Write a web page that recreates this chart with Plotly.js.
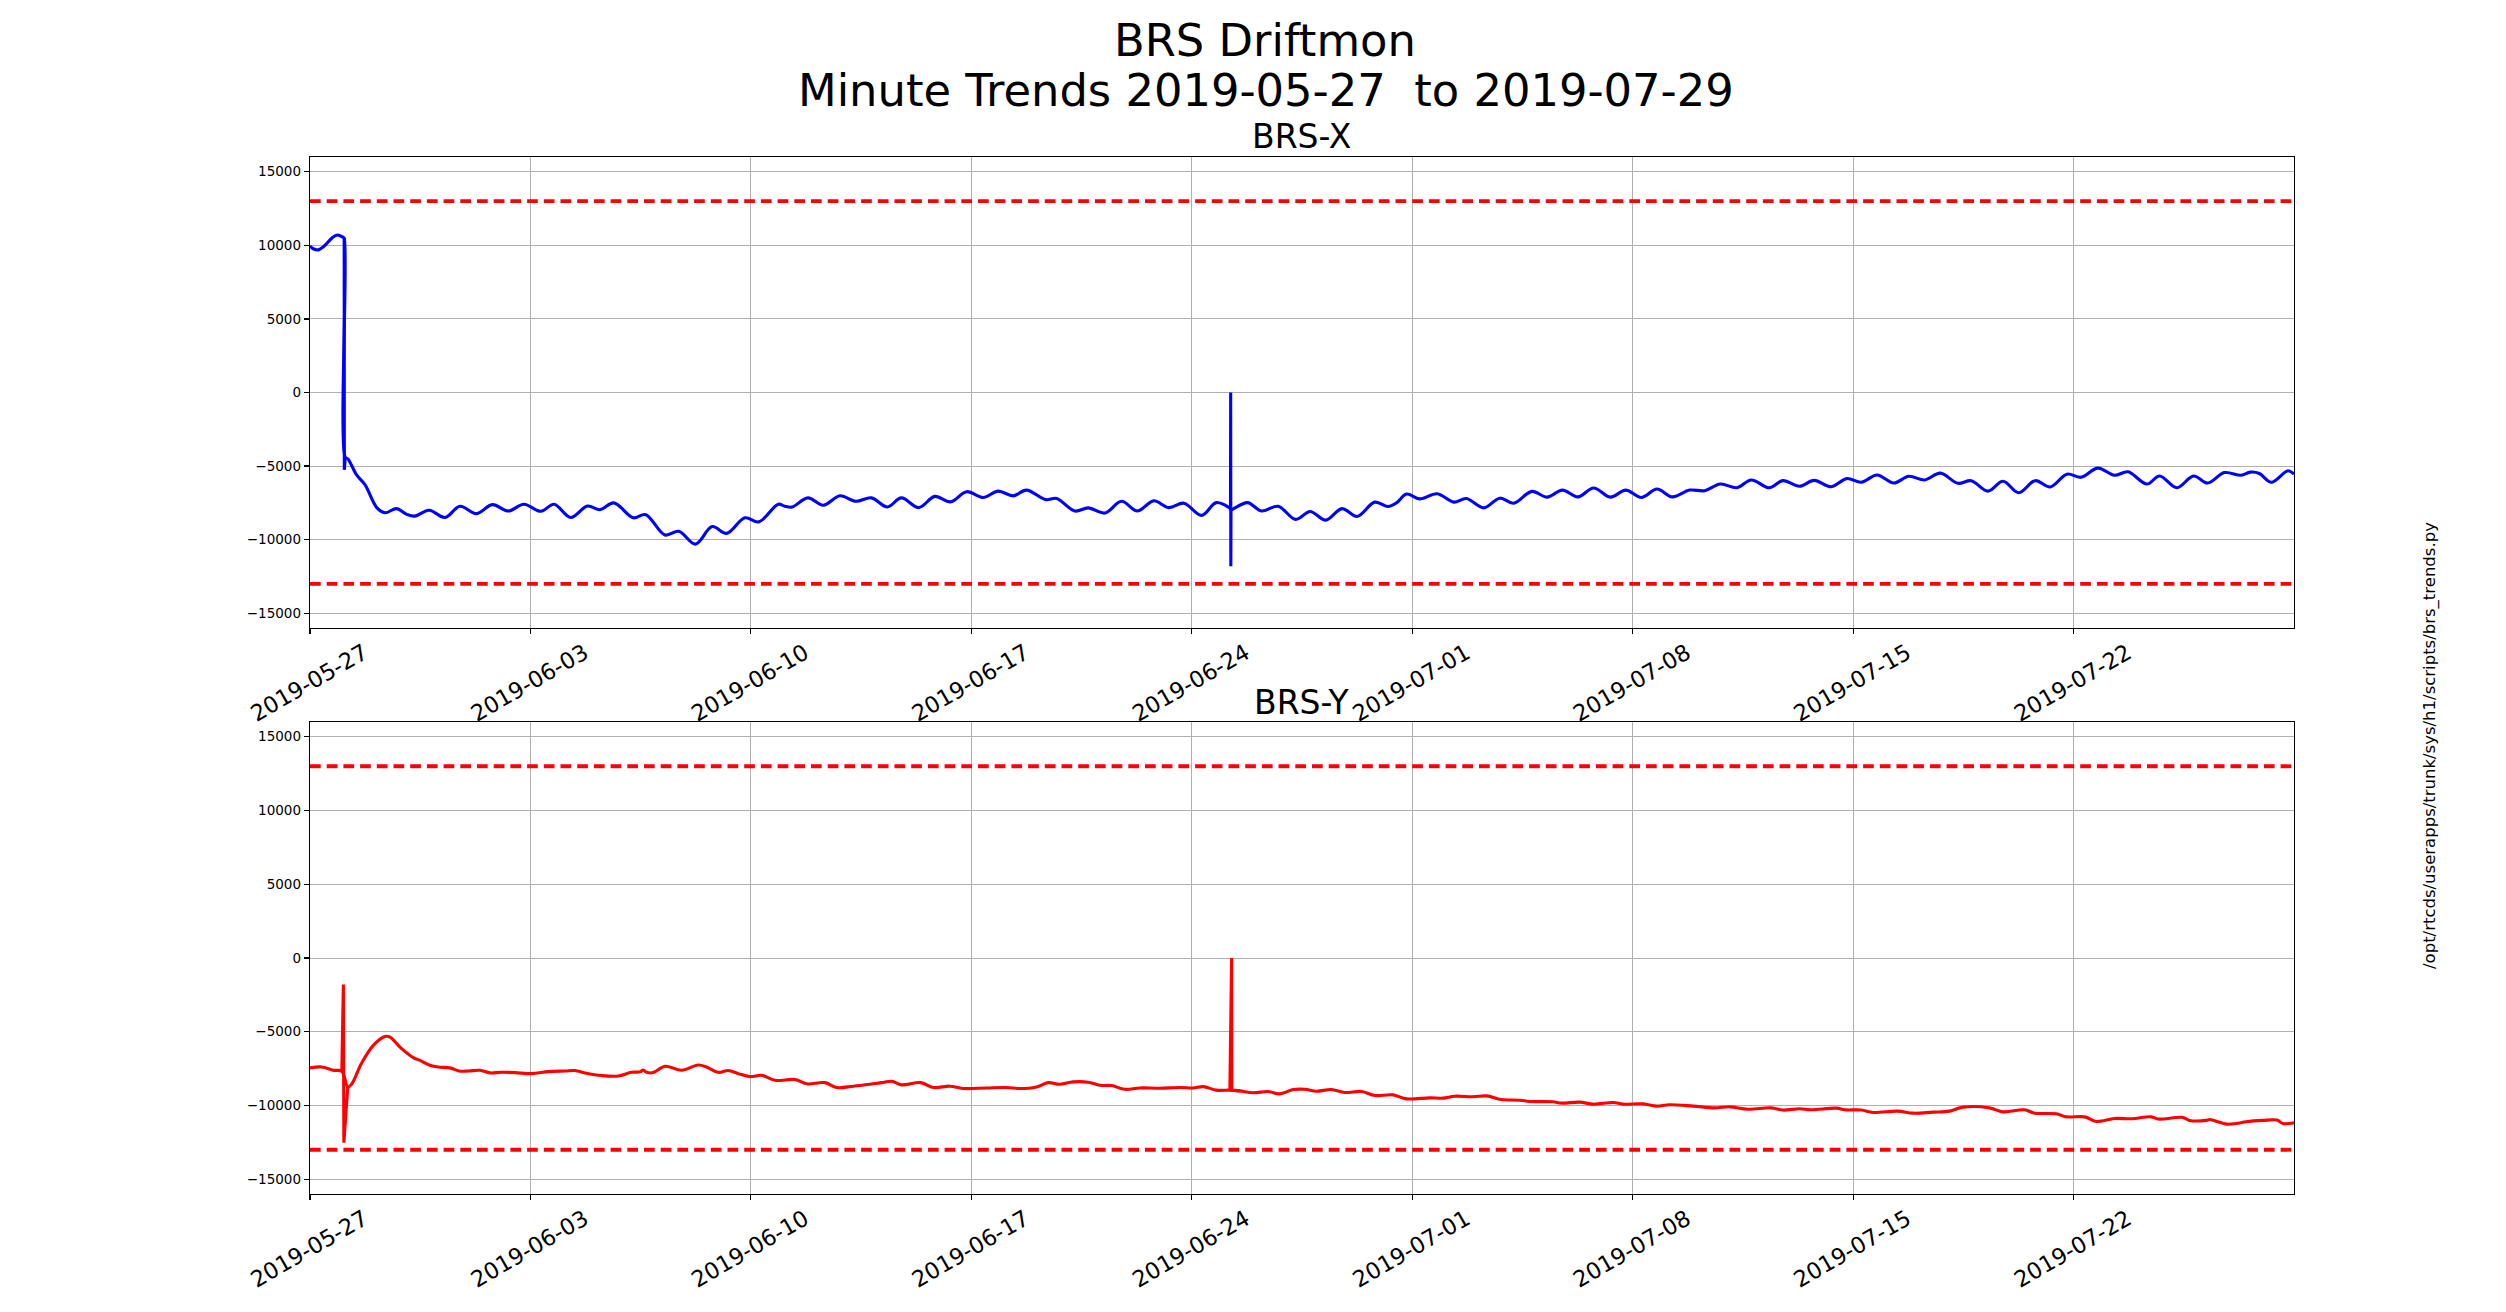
<!DOCTYPE html>
<html>
<head>
<meta charset="utf-8">
<script src="https://cdn.plot.ly/plotly-3.0.1.min.js"></script>
<style>
html,body{margin:0;padding:0;background:#fff;}
#chart{width:2506px;height:1312px;}
</style>
</head>
<body>
<div id="chart"></div>
<script>
// ---- data (days since 2019-05-27 00:00 UTC, values in counts) ----
const startDate = '2019-05-27';
const endDate = '2019-07-29';

const brsXDays = [0,0.12,0.25,0.45,0.7,0.87,1.05,1.085,1.12,1.2,1.48,1.75,2.12,2.38,2.75,3.07,3.33,3.78,4.29,4.76,5.29,5.79,6.3,6.79,7.33,7.75,8.28,8.81,9.21,9.65,10.26,10.66,11.27,11.71,12.24,12.77,13.23,13.81,14.25,14.87,15.08,15.31,15.81,16.3,16.83,17.33,17.83,18.33,18.78,19.33,19.84,20.34,20.85,21.38,21.85,22.33,22.75,23.36,23.71,24.29,24.71,25.24,25.77,26.27,26.79,27.27,27.75,28.31,28.78,29.23,29.245,29.77,30.21,30.74,31.3,31.76,32.25,32.77,33.25,33.81,34.23,34.5,34.82,35.24,35.79,36.32,36.72,37.27,37.78,38.22,38.8,39.28,39.77,40.26,40.76,41.29,41.78,42.28,42.77,43.26,43.81,44.29,44.78,45.31,45.77,46.33,46.77,47.3,47.76,48.31,48.8,49.26,49.76,50.29,50.77,51.27,51.77,52.33,52.75,53.28,53.76,54.26,54.78,55.26,55.79,56.24,56.77,57.3,57.73,58.33,58.73,59.28,59.81,60.26,60.79,61.32,61.61,61.9,62.28,62.81,63.0];
const brsXVals = [9950,9750,9690,9950,10500,10700,10550,10500,-4400,-4500,-5600,-6280,-7820,-8170,-7890,-8280,-8400,-8000,-8490,-7730,-8230,-7620,-8050,-7590,-8070,-7590,-8490,-7710,-7960,-7500,-8510,-8300,-9680,-9430,-10300,-9110,-9570,-8510,-8790,-7590,-7730,-7780,-7160,-7660,-7020,-7390,-7160,-7780,-7160,-7820,-7060,-7430,-6740,-7130,-6700,-7020,-6630,-7280,-7200,-8050,-7840,-8190,-7390,-8050,-7360,-7820,-7520,-8350,-7480,-7900,-7960,-7480,-8050,-7730,-8620,-8080,-8670,-7890,-8420,-7450,-7750,-7500,-6900,-7230,-6880,-7450,-7200,-7840,-7180,-7520,-6720,-7110,-6630,-7090,-6490,-7110,-6630,-7130,-6560,-7090,-6630,-6670,-6220,-6470,-5940,-6470,-5990,-6370,-5970,-6400,-5850,-6100,-5600,-6150,-5690,-5940,-5480,-6170,-5990,-6700,-6030,-6810,-5990,-6420,-5550,-5760,-5140,-5620,-5390,-6220,-5670,-6470,-5670,-6150,-5440,-5620,-5410,-5500,-6100,-5320,-5550];
// sharp glitches in BRS-X
const brsXGlitchDays = [[1.085,1.09,1.12],[29.23,29.235,29.24,29.245]];
const brsXGlitchVals = [[10500,-5250,-4400],[-7900,0,-11800,-7960]];

const brsYDays = [0,0.37,0.74,1.01,1.2,1.32,1.64,2.01,2.38,2.54,2.91,3.28,3.49,3.81,4.07,4.44,4.73,5.03,5.4,5.71,6.08,6.51,7.04,7.57,8.1,8.41,8.73,9.26,9.79,10.21,10.48,10.58,10.69,10.9,11.27,11.8,12.33,12.59,12.96,13.28,13.6,13.97,14.34,14.76,15.4,15.77,16.35,16.72,17.25,17.78,18.15,18.47,18.78,19.39,19.79,20.32,20.74,21.48,22.12,22.54,23.07,23.44,23.81,24.23,24.71,25.08,25.45,25.87,26.35,26.98,27.62,28.04,28.36,28.78,29.21,29.52,29.95,30.42,30.79,31.22,31.59,31.96,32.43,32.86,33.39,33.81,34.39,34.82,35.56,35.98,36.35,36.93,37.36,37.83,38.41,38.73,39.47,39.74,40.32,40.74,41.38,41.69,42.33,42.75,43.17,43.92,44.6,45.08,45.66,46.4,46.77,47.3,47.64,48.47,48.73,49.26,49.63,50.42,50.9,51.53,52.06,52.49,53.33,53.76,54.44,54.76,55.45,55.77,56.35,56.72,57.3,57.83,58.47,58.68,59.47,59.68,60.21,60.32,60.53,60.85,61.16,61.48,62.01,62.46,62.65,63.0];
const brsYVals = [-7450,-7390,-7610,-7680,-8740,-8560,-7120,-5920,-5320,-5360,-6150,-6760,-6940,-7270,-7390,-7450,-7660,-7660,-7610,-7790,-7750,-7770,-7840,-7700,-7660,-7630,-7790,-7970,-8000,-7750,-7720,-7590,-7750,-7770,-7340,-7610,-7250,-7390,-7750,-7630,-7840,-8040,-7950,-8290,-8240,-8530,-8450,-8780,-8690,-8560,-8450,-8360,-8600,-8450,-8780,-8690,-8850,-8810,-8780,-8850,-8740,-8450,-8560,-8400,-8420,-8630,-8650,-8900,-8810,-8830,-8780,-8810,-8720,-8960,-8960,-9010,-9140,-9050,-9210,-8920,-8900,-9030,-8920,-9120,-9050,-9320,-9280,-9550,-9480,-9500,-9370,-9410,-9350,-9590,-9640,-9730,-9750,-9840,-9770,-9910,-9800,-9910,-9890,-10040,-9950,-10040,-10160,-10090,-10250,-10160,-10310,-10220,-10290,-10180,-10290,-10310,-10470,-10380,-10520,-10450,-10380,-10110,-10160,-10430,-10290,-10520,-10560,-10770,-10770,-11080,-10880,-10900,-10770,-10920,-10810,-11010,-11010,-10950,-11060,-11260,-11220,-11100,-11010,-10990,-11220,-11170];
const brsYGlitchDays = [[1.01,1.06,1.075,1.2],[29.21,29.265,29.27,29.52]];
const brsYGlitchVals = [[-7680,-1800,-12520,-8740],[-8960,0,-8970,-9010]];

const limitVals = [13000, -13000];

const tickDays = [0,7,14,21,28,35,42,49,56];
const xTickLabels = ['2019-05-27','2019-06-03','2019-06-10','2019-06-17','2019-06-24','2019-07-01','2019-07-08','2019-07-15','2019-07-22'];
const yTickVals = [-15000,-10000,-5000,0,5000,10000,15000];
const yTickLabels = ['\u221215000','\u221210000','\u22125000','0','5000','10000','15000'];

// ---- build ----
const T0 = Date.UTC(2019,4,27);
const toX = d => T0 + d*86400000;
const FONT = 'DejaVu Sans, Liberation Sans, sans-serif';

function series(days, vals, color, xa, ya, shape){
  return {x: days.map(toX), y: vals, xaxis: xa, yaxis: ya, type:'scatter', mode:'lines',
    line:{color: color, width: 3.1, shape: shape, smoothing: 1}, hoverinfo:'skip', showlegend:false};
}
const traces = [];
[['x','y'],['x2','y2']].forEach(([xa,ya])=>{
  limitVals.forEach(v=>{
    traces.push({x:[toX(0), toX(63)], y:[v,v], xaxis:xa, yaxis:ya, type:'scatter', mode:'lines',
      line:{color:'#ff0000', width:3.8, dash:'10.7px,6px'}, hoverinfo:'skip', showlegend:false});
  });
});
traces.push(series(brsXDays, brsXVals, '#0000ff', 'x', 'y', 'spline'));
brsXGlitchDays.forEach((d,i)=>traces.push(series(d, brsXGlitchVals[i], '#0000ff', 'x', 'y', 'linear')));
traces.push(series(brsYDays, brsYVals, '#ff0000', 'x2', 'y2', 'spline'));
brsYGlitchDays.forEach((d,i)=>traces.push(series(d, brsYGlitchVals[i], '#ff0000', 'x2', 'y2', 'linear')));

const W = 2506, H = 1312;
const xDom = [310/W, 2294/W];
function xAxis(anchor){
  return {type:'date', domain:xDom, anchor:anchor, range:[startDate, endDate],
    tickmode:'array', tickvals:tickDays.map(toX), ticktext:xTickLabels,
    tickangle:-30, ticklabelshift:54, ticklabelstandoff:-3, tickfont:{family:FONT, size:22.5, color:'#000'},
    ticks:'outside', ticklen:5, tickwidth:1.2, tickcolor:'#000',
    showline:true, mirror:true, linecolor:'#000', linewidth:1.3,
    showgrid:true, gridcolor:'#b0b0b0', gridwidth:1, zeroline:false, fixedrange:true};
}
function yAxis(anchor, dom){
  return {domain:dom, anchor:anchor, range:[-16000,16000],
    tickmode:'array', tickvals:yTickVals, ticktext:yTickLabels,
    tickfont:{family:FONT, size:13.5, color:'#000'},
    ticks:'outside', ticklen:5, tickwidth:1.2, tickcolor:'#000',
    showline:true, mirror:true, linecolor:'#000', linewidth:1.3,
    showgrid:true, gridcolor:'#b0b0b0', gridwidth:1, zeroline:false, fixedrange:true};
}
const layout = {
  width:W, height:H, margin:{l:0,r:0,t:0,b:0}, paper_bgcolor:'#fff', plot_bgcolor:'#fff',
  font:{family:FONT, color:'#000'}, showlegend:false,
  xaxis: xAxis('y'), yaxis: yAxis('x', [1-628/H, 1-157/H]),
  xaxis2: xAxis('y2'), yaxis2: yAxis('x2', [1-1194/H, 1-722/H]),
  annotations:[
    {text:'BRS Driftmon', xref:'paper', yref:'paper', x:1265/W, y:1-40/H, xanchor:'center', yanchor:'middle', showarrow:false, font:{family:FONT, size:44.8, color:'#000'}},
    {text:'Minute Trends 2019-05-27\u00a0 to 2019-07-29', xref:'paper', yref:'paper', x:1266/W, y:1-91/H, xanchor:'center', yanchor:'middle', showarrow:false, font:{family:FONT, size:44.8, color:'#000'}},
    {text:'BRS-X', xref:'paper', yref:'paper', x:1302/W, y:1-137/H, xanchor:'center', yanchor:'middle', showarrow:false, font:{family:FONT, size:33, color:'#000'}},
    {text:'BRS-Y', xref:'paper', yref:'paper', x:1302/W, y:1-703/H, xanchor:'center', yanchor:'middle', showarrow:false, font:{family:FONT, size:33, color:'#000'}},
    {text:'/opt/rtcds/userapps/trunk/sys/h1/scripts/brs_trends.py', xref:'paper', yref:'paper', x:2430/W, y:1-746/H, xanchor:'center', yanchor:'middle', textangle:-90, showarrow:false, font:{family:FONT, size:16.5, color:'#000'}}
  ]
};
Plotly.newPlot('chart', traces, layout, {staticPlot:true, displayModeBar:false});
</script>
</body>
</html>
